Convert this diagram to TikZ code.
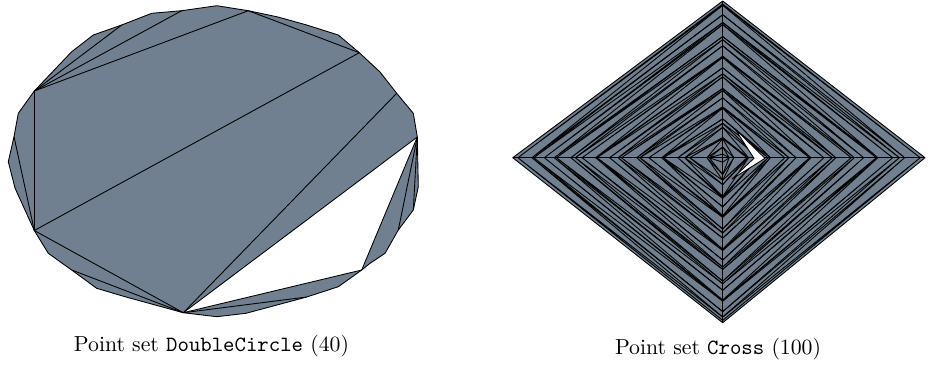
\documentclass[tikz,border=0pt]{standalone}
\usetikzlibrary{calc}
\definecolor{slate}{RGB}{112,128,144}
\tikzset{poly/.style={fill=slate}, edge/.style={line width=0.4pt, line join=round}}
\begin{document}
\begin{tikzpicture}[x=0.46pt, y=-0.46pt]
  \useasboundingbox (0,0) rectangle (933,364);

  % Point set DoubleCircle: boundary of the polygon
  \foreach \px/\py [count=\i] in {216.7/5.7, 248.3/10.7, 278/17, 306.7/25, 338.3/35,
      359.3/52.7, 380/72, 396.7/93.3, 413.3/113.3, 417.3/137, 418.3/186.7,
      413.3/210, 398.3/230, 385/253.3, 370/263.3, 361.7/270, 338.3/286.7,
      306.7/297, 246/313.3, 216.7/316.7, 183.3/312.7, 125/296.7, 96.7/288.3,
      71.7/270, 48.3/253.3, 34.3/230.5, 15/188, 8.3/161.7, 14/136.7,
      18.3/113.3, 34.3/91, 71.7/51.7, 93.3/35, 121.7/25, 151.7/13.3, 181.7/10.7}
    \coordinate (v\i) at (\px,\py);
  \fill[poly] (v1) \foreach \i in {2,...,36} {-- (v\i)} -- cycle;
  \fill[white] (v21) -- (v10) -- (v16) -- cycle;
  \draw[edge] (v1) \foreach \i in {2,...,36} {-- (v\i)} -- cycle;

  % diagonals
  \foreach \a/\b in {31/34, 31/36, 31/2, 31/26, 26/6, 26/21, 24/21, 21/8, 21/10,
      2/6, 29/26, 10/16, 10/13, 10/12, 16/21, 18/21}
    \draw[edge] (v\a) -- (v\b);

  % Point set Cross
  \coordinate (O) at (722.7,157.7);
  \coordinate (cN) at (722.7,1);
  \coordinate (cS) at (722.7,322.7);
  \coordinate (cW) at (512.7,157.7);
  \coordinate (cE) at (925,157.7);
  \fill[poly] (cN) -- (cE) -- (cS) -- (cW) -- cycle;
  % arm length, jitter phase and warp: left, right, top, bottom
  \foreach \ax/\ay/\pa/\pb/\ga/\gb in {-210/-156.7/0/80/0.93/1.06, 202.3/-156.7/40/80/1.08/1.06,
      -210/165/0/120/0.93/0.95, 202.3/165/40/120/1.08/0.95} {
    \foreach \k in {1,...,24} {
      \pgfmathsetmacro\ua{((\k+0.45*sin(\k*137+\pa))/25)^\ga}
      \pgfmathsetmacro\va{((\k+0.45*sin(\k*137+\pb))/25)^\gb}
      \pgfmathsetmacro\vb{min(1,((\k+1+0.45*sin((\k+1)*137+\pb))/25)^\gb)}
      \draw[edge] ($(O)+(0,\va*\ay)$) -- ($(O)+(\ua*\ax,0)$) -- ($(O)+(0,\vb*\ay)$);
    }
  }
  \draw[edge] (cN) -- (cE) -- (cS) -- (cW) -- cycle;
  \draw[edge] (cN) -- (cS) (cW) -- (cE);
  \filldraw[fill=white, edge] (735,129) -- (765,158.3) -- (732,179) -- (754,158.3) -- cycle;

  % captions
  \node[anchor=base] (capL) at (211.5,351.7) {Point set \texttt{DoubleCircle} (40)};
  \node[anchor=base] (capR) at (718,354) {Point set \texttt{Cross} (100)};
\end{tikzpicture}
\end{document}
